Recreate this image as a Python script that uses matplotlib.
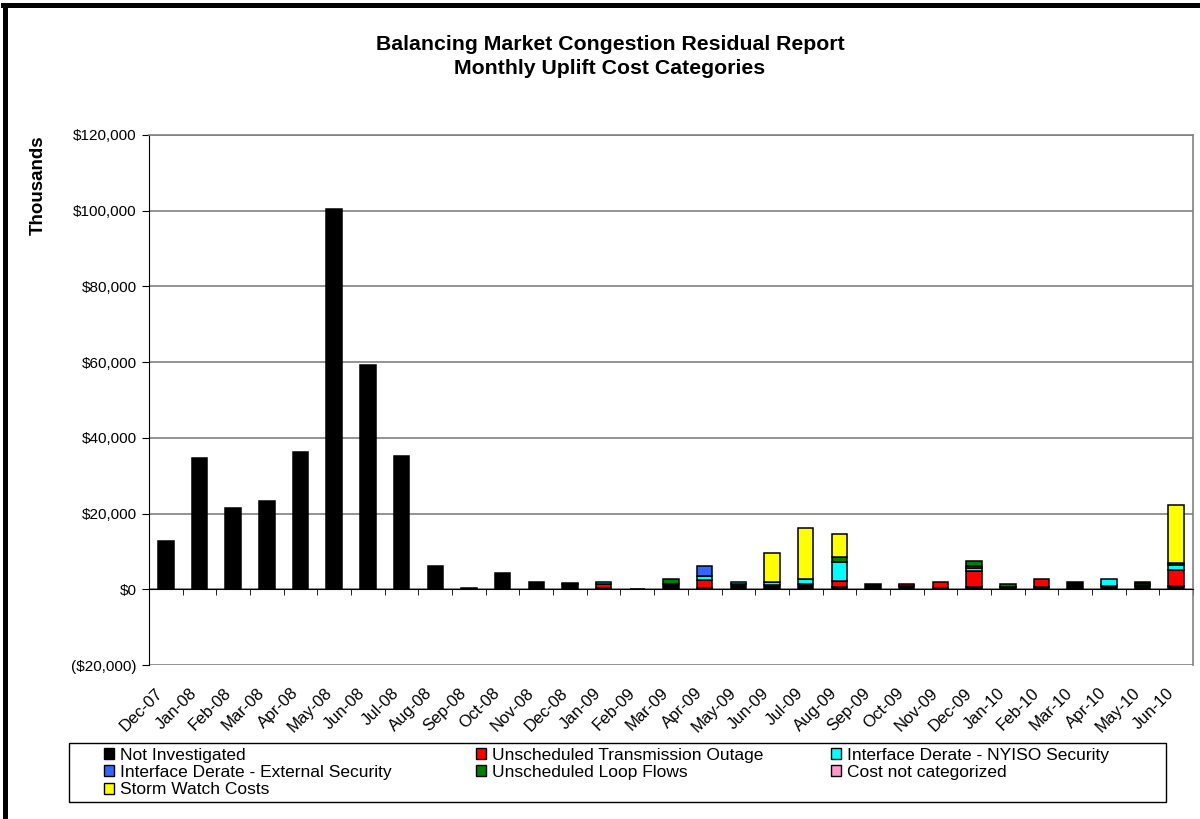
import numpy as np
import matplotlib
matplotlib.use("Agg")
import matplotlib.pyplot as plt
from matplotlib.lines import Line2D
from matplotlib.patches import Patch, Rectangle
from matplotlib.transforms import ScaledTranslation

plt.rcParams["font.family"] = ["Liberation Sans", "DejaVu Sans"]

# monthly uplift cost, $ thousands
months = ["Dec-07", "Jan-08", "Feb-08", "Mar-08", "Apr-08", "May-08", "Jun-08",
          "Jul-08", "Aug-08", "Sep-08", "Oct-08", "Nov-08", "Dec-08", "Jan-09",
          "Feb-09", "Mar-09", "Apr-09", "May-09", "Jun-09", "Jul-09", "Aug-09",
          "Sep-09", "Oct-09", "Nov-09", "Dec-09", "Jan-10", "Feb-10", "Mar-10",
          "Apr-10", "May-10", "Jun-10"]

not_investigated = [12700, 34700, 21500, 23400, 36200, 100500, 59200, 35300, 6100, 400,
                    4400, 2000, 1400, 300, 200, 1500, 400, 1400, 1200, 1300,
                    500, 1300, 1000, 300, 600, 700, 500, 1800, 1000, 900, 900]
transmission_outage = [0, 0, 0, 0, 0, 0, 0, 0, 0, 0,
                       0, 0, 300, 1000, 0, 0, 2000, 0, 0, 0,
                       1700, 0, 300, 1500, 4300, 0, 2100, 0, 0, 0, 4200]
nyiso_security = [0, 0, 0, 0, 0, 0, 0, 0, 0, 0,
                  0, 0, 0, 600, 0, 0, 1000, 500, 600, 1500,
                  5000, 0, 0, 0, 700, 0, 0, 0, 1600, 300, 1300]
external_security = [0, 0, 0, 0, 0, 0, 0, 0, 0, 0,
                     0, 0, 0, 0, 0, 0, 2700, 0, 0, 0,
                     0, 0, 0, 0, 600, 0, 0, 0, 0, 0, 0]
loop_flows = [0, 0, 0, 0, 0, 0, 0, 0, 0, 0,
              0, 0, 0, 0, 0, 1300, 0, 0, 0, 0,
              1200, 0, 0, 0, 1400, 700, 0, 0, 0, 400, 500]
not_categorized = [0] * 31
storm_watch = [0, 0, 0, 0, 0, 0, 0, 0, 0, 0,
               0, 0, 0, 0, 0, 0, 0, 0, 7900, 13400,
               6200, 0, 0, 0, 0, 0, 0, 0, 0, 400, 15400]

series = [
    ("Not Investigated", not_investigated, "#000000"),
    ("Unscheduled Transmission Outage", transmission_outage, "#FF0000"),
    ("Interface Derate - NYISO Security", nyiso_security, "#00FFFF"),
    ("Interface Derate - External Security", external_security, "#3366FF"),
    ("Unscheduled Loop Flows", loop_flows, "#008000"),
    ("Cost not categorized", not_categorized, "#FF99CC"),
    ("Storm Watch Costs", storm_watch, "#FFFF00"),
]

W, H = 1200, 819
fig = plt.figure(figsize=(W / 100, H / 100), dpi=100)
ax = fig.add_axes([149 / W, 1 - 665 / H, 1044 / W, 530 / H])

x = np.arange(len(months))
bottom = np.zeros(len(months))
handles = []
for name, vals, color in series:
    vals = np.array(vals, dtype=float)
    keep = vals > 0
    if keep.any():
        ax.bar(x[keep], vals[keep], 0.46, bottom=bottom[keep], color=color,
               edgecolor="black", linewidth=1.1, zorder=3)
    bottom += vals
    handles.append(Patch(facecolor=color, edgecolor="black", linewidth=1.0, label=name))

ax.set_xlim(-0.5, len(months) - 0.5)
ax.set_ylim(-20000, 120000)
ax.set_yticks(np.arange(-20000, 120001, 20000))
ax.yaxis.set_major_formatter(plt.FuncFormatter(
    lambda v, p: f"${v:,.0f}" if v >= 0 else f"(${-v:,.0f})"))
ax.grid(axis="y", color="#808080", linewidth=1.2, zorder=0)
ax.set_axisbelow(True)

ax.spines["left"].set_color("black")
ax.spines["right"].set_color("#808080")
ax.spines["top"].set_color("#808080")
ax.spines["right"].set_linewidth(1.2)
ax.spines["top"].set_linewidth(1.2)
ax.spines["bottom"].set_position(("data", 0))
ax.spines["bottom"].set_color("black")

ax.set_xticks(x)
ax.set_xticklabels(months, rotation=45, ha="right", va="center", rotation_mode="anchor")
ax.set_xticks(np.arange(-0.5, len(months), 1.0), minor=True)
ax.tick_params(axis="x", which="major", length=0, pad=73, labelsize=12)
ax.tick_params(axis="x", which="minor", length=4.3, direction="out", color="black")
ax.tick_params(axis="y", length=5, direction="out", labelsize=11, pad=4)
# nudge month labels a little left of the category centre, as Excel does
shift = ScaledTranslation(-5 / 100, 0, fig.dpi_scale_trans)
for lbl in ax.get_xticklabels():
    lbl.set_transform(lbl.get_transform() + shift)

fig.text(610 / W, 1 - 44 / H, "Balancing Market Congestion Residual Report",
         ha="center", va="center", fontsize=15.3, fontweight="bold")
fig.text(610 / W, 1 - 69 / H, "Monthly Uplift Cost Categories",
         ha="center", va="center", fontsize=15.3, fontweight="bold")
fig.text(38 / W, 1 - 185 / H, "Thousands", rotation=90,
         ha="center", va="center", fontsize=13.5, fontweight="bold")

# legend: outer box, then one legend per column so the columns sit where Excel put them
fig.add_artist(Rectangle((69 / W, 1 - 802 / H), 1097 / W, 59 / H, transform=fig.transFigure,
                         facecolor="white", edgecolor="black", linewidth=1.0))
columns = [(104, [0, 3, 6]), (476, [1, 4]), (831, [2, 5])]
for xpos, idx in columns:
    fig.legend([handles[i] for i in idx], [series[i][0] for i in idx],
               loc="upper left", bbox_to_anchor=(xpos / W, 1 - 748 / H),
               frameon=False, borderaxespad=0, borderpad=0, handlelength=0.6,
               handleheight=0.6, handletextpad=0.3, labelspacing=0.12,
               fontsize=12.5)

# outer chart frame (left and top edges visible)
fig.add_artist(Line2D([5 / W, 5 / W], [0, 1 - 5 / H], color="black",
                      linewidth=3.6, transform=fig.transFigure))
fig.add_artist(Line2D([3 / W, 1], [1 - 5 / H, 1 - 5 / H], color="black",
                      linewidth=3.6, transform=fig.transFigure))

fig.savefig("out.png", dpi=100)
